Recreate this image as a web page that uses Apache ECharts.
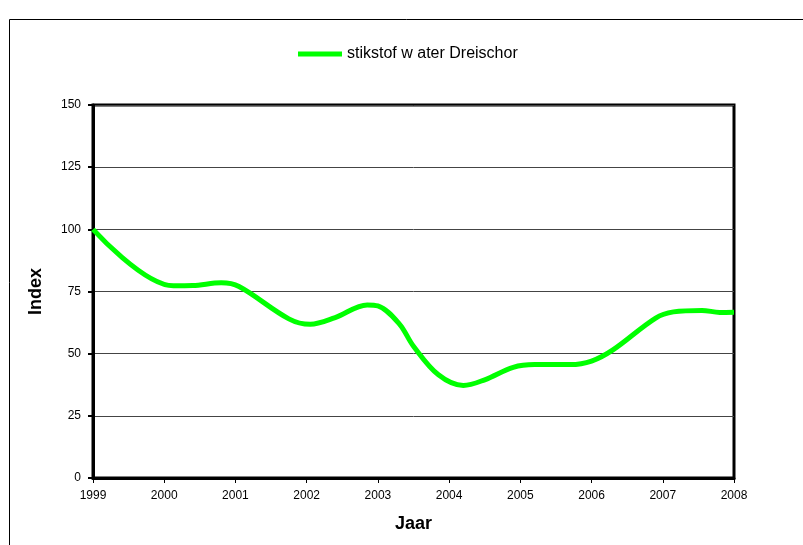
<!DOCTYPE html>
<html><head><meta charset="utf-8">
<script src="https://cdn.jsdelivr.net/npm/echarts@6/dist/echarts.min.js"></script>
<style>html,body{margin:0;padding:0;background:#fff;}#c{width:803px;height:545px;}</style>
</head><body><div id="c"></div>
<script>
const seriesName = 'stikstof w ater Dreischor';
const years = [1999, 2000.13, 2000.4, 2000.8, 2001.05, 2001.75, 2002.05, 2002.4, 2002.85, 2003.0, 2003.3, 2003.5, 2003.85, 2004.2, 2004.5, 2004.9, 2005.2, 2005.7, 2006.0, 2006.3, 2006.9, 2007.15, 2007.55, 2007.8, 2008];
const values = [100, 77.3, 77.4, 78.5, 77, 64, 61.8, 64.5, 69.6, 69.2, 62, 53, 41.5, 37.2, 39.5, 44.5, 45.6, 45.6, 47, 51.5, 64.3, 66.8, 67.4, 66.6, 66.7];
const xTicks = [1999, 2000, 2001, 2002, 2003, 2004, 2005, 2006, 2007, 2008];
const yTicks = [0, 25, 50, 75, 100, 125, 150];

const chart = echarts.init(document.getElementById('c'));
const font = 'Liberation Sans, Arial, sans-serif';
chart.setOption({
  animation: false,
  textStyle: { fontFamily: font },
  graphic: [{
    type: 'rect', shape: { x: 9.5, y: 19.5, width: 900, height: 700 },
    style: { fill: 'none', stroke: '#000', lineWidth: 1 }, z: -10
  }],
  legend: {
    top: 41, left: 293,
    icon: 'rect', itemWidth: 44, itemHeight: 5, itemGap: 2,
    textStyle: { fontFamily: font, fontSize: 16, color: '#000', padding: [0, 0, 0, 0] },
    data: [seriesName]
  },
  grid: { left: 93, right: 69, top: 105, bottom: 67, show: true, borderColor: '#000', borderWidth: 3, backgroundColor: 'transparent' },
  xAxis: {
    type: 'value', min: xTicks[0], max: xTicks[xTicks.length - 1], interval: 1,
    name: 'Jaar', nameLocation: 'middle', nameGap: 37,
    nameTextStyle: { fontFamily: font, fontSize: 18, fontWeight: 'bold', color: '#000' },
    axisLine: { show: true, lineStyle: { color: '#000', width: 3 } },
    axisTick: { show: true, length: 5, lineStyle: { color: '#000', width: 1 } },
    axisLabel: { fontFamily: font, fontSize: 12, color: '#000', margin: 12, formatter: v => String(v) },
    splitLine: { show: false }
  },
  yAxis: {
    type: 'value', min: yTicks[0], max: yTicks[yTicks.length - 1], interval: 25,
    name: 'Index', nameLocation: 'middle', nameGap: 48,
    nameTextStyle: { fontFamily: font, fontSize: 18, fontWeight: 'bold', color: '#000' },
    axisLine: { show: true, lineStyle: { color: '#000', width: 3 } },
    axisTick: { show: true, length: 5, lineStyle: { color: '#000', width: 2 } },
    axisLabel: { fontFamily: font, fontSize: 12, color: '#000', margin: 12 },
    splitLine: { show: true, lineStyle: { color: '#444', width: 1 } }
  },
  series: [{
    name: seriesName, type: 'line', smooth: 0.35, symbol: 'none',
    lineStyle: { color: '#00ff00', width: 5 }, itemStyle: { color: '#00ff00' },
    data: years.map((y, i) => [y, values[i]])
  }]
});
</script></body></html>
